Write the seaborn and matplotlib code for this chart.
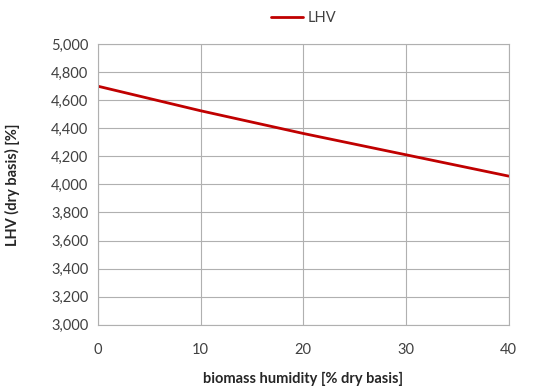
import matplotlib
matplotlib.use("Agg")
import matplotlib.pyplot as plt
import seaborn as sns
import pandas as pd
from matplotlib.ticker import FuncFormatter, MultipleLocator

# Lower heating value of biomass vs. moisture content
humidity = [0, 10, 20, 30, 40]
lhv = [4700, 4525, 4363, 4211, 4059]

df = pd.DataFrame({"humidity": humidity, "LHV": lhv})

sns.set_theme(style="white")
plt.rcParams["font.family"] = ["Lato", "DejaVu Sans"]

fig = plt.figure(figsize=(5.5, 3.87), dpi=100)
ax = fig.add_axes([0.178, 0.161, 0.747, 0.725])

sns.lineplot(data=df, x="humidity", y="LHV", ax=ax, color="#C00000",
             linewidth=2.0, label="LHV")

ax.set_xlim(0, 40)
ax.set_ylim(3000, 5000)
ax.xaxis.set_major_locator(MultipleLocator(10))
ax.yaxis.set_major_locator(MultipleLocator(200))
ax.yaxis.set_major_formatter(FuncFormatter(lambda v, p: f"{int(v):,}"))

ax.grid(True, color="#B0B0B0", linewidth=0.8)
for s in ax.spines.values():
    s.set_color("#B0B0B0")
    s.set_linewidth(0.8)

ax.tick_params(axis="both", labelsize=10.5, colors="#404040", length=0)
ax.tick_params(axis="x", pad=13)
ax.tick_params(axis="y", pad=7)
for lab in ax.get_xticklabels() + ax.get_yticklabels():
    lab.set_color("#404040")

ax.set_xlabel("biomass humidity [% dry basis]", fontsize=10.5, fontweight="bold",
              color="#262626", labelpad=11)
ax.set_ylabel("LHV (dry basis) [%]", fontsize=10.5, fontweight="bold",
              color="#262626", labelpad=22)

leg = ax.legend(loc="lower center", bbox_to_anchor=(0.5, 1.02), frameon=False,
                fontsize=10.5, handlelength=2.2, handletextpad=0.3)
for t in leg.get_texts():
    t.set_color("#404040")

fig.savefig("out.png", dpi=100)
